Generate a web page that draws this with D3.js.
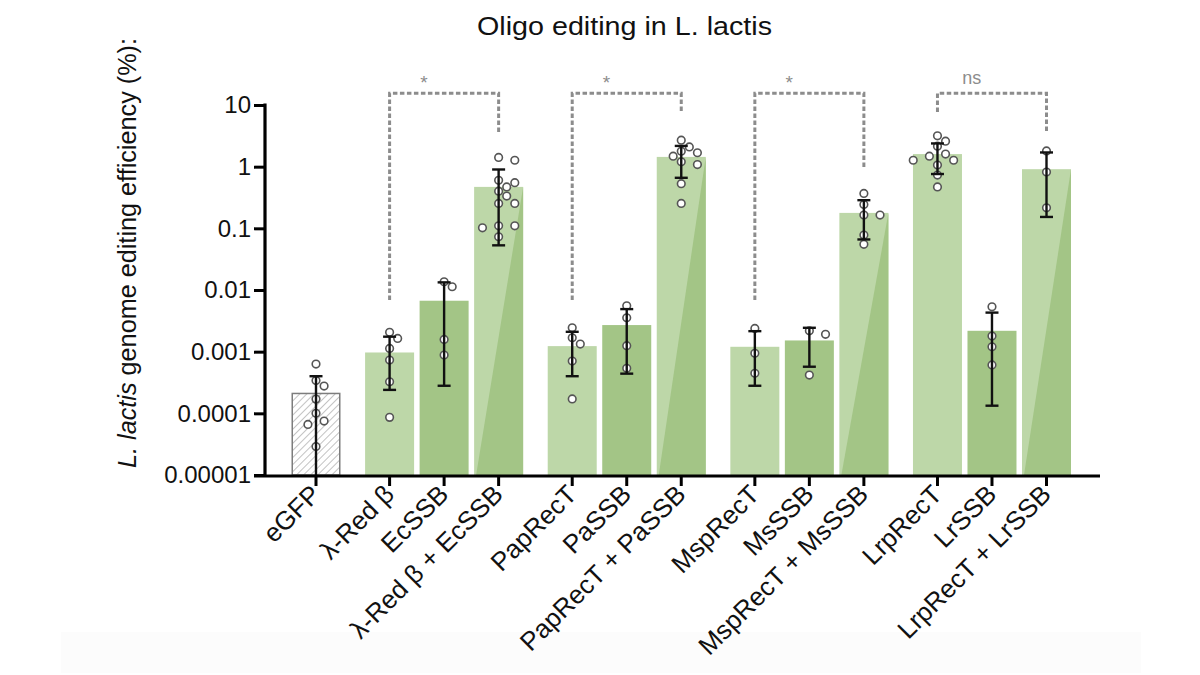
<!DOCTYPE html>
<html>
<head>
<meta charset="utf-8">
<script src="https://cdn.jsdelivr.net/npm/d3@7/dist/d3.min.js"></script>
<style>
  html, body { margin: 0; padding: 0; background: #fff; }
  svg { display: block; font-family: "Liberation Sans", Arial, sans-serif; }
</style>
</head>
<body>
<svg id="chart" width="1200" height="675"></svg>
<script>
// ---------------- DATA ----------------
const categories = ["eGFP", "λ-Red β", "EcSSB", "λ-Red β + EcSSB",
  "PapRecT", "PaSSB", "PapRecT + PaSSB",
  "MspRecT", "MsSSB", "MspRecT + MsSSB",
  "LrpRecT", "LrSSB", "LrpRecT + LrSSB"];
const groupIndex = [0, 1, 1, 1, 2, 2, 2, 3, 3, 3, 4, 4, 4];
const barKind = ["control", "recT", "ssb", "combo", "recT", "ssb", "combo",
  "recT", "ssb", "combo", "recT", "ssb", "combo"];
const means = [0.00021, 0.00097, 0.0067, 0.47, 0.00123, 0.0027, 1.44,
  0.0012, 0.00152, 0.178, 1.6, 0.00218, 0.91];
const errHigh = [0.0004, 0.00175, 0.0133, 0.9, 0.0021, 0.0049, 2.17,
  0.00215, 0.00244, 0.286, 2.38, 0.0043, 1.7];
const errLow = [null, 0.00024, 0.00028, 0.053, 0.0004, 0.00044, 0.66,
  0.00028, 0.00057, 0.066, 0.76, 0.000133, 0.153];
const replicates = [
  [0.00063, 0.00034, 0.000277, 0.00017, 0.0001, 0.000075, 0.000066, 0.000029],
  [0.00206, 0.00164, 0.00113, 0.00073, 0.000325, 0.000086],
  [0.0136, 0.0113, 0.00158, 0.00088],
  [1.41, 1.27, 0.6, 0.55, 0.47, 0.4, 0.333, 0.253, 0.253, 0.11, 0.11, 0.102, 0.073],
  [0.00244, 0.00168, 0.00133, 0.000704, 0.000171],
  [0.00555, 0.00355, 0.00125, 0.000536],
  [2.69, 2.09, 1.78, 1.68, 1.48, 1.2, 1.08, 0.53, 0.253],
  [0.00238, 0.00094, 0.000445],
  [0.00218, 0.00191, 0.000418],
  [0.368, 0.244, 0.164, 0.164, 0.078, 0.055],
  [3.16, 2.59, 2.15, 1.6, 1.48, 1.27, 1.27, 1.06, 0.73, 0.47],
  [0.00535, 0.00179, 0.0012, 0.00061],
  [1.8, 0.82, 0.215]
];
const yTickValues = [0.00001, 0.0001, 0.001, 0.01, 0.1, 1, 10];
const yTickLabels = ["0.00001", "0.0001", "0.001", "0.01", "0.1", "1", "10"];
// significance comparisons (bar indices, leg end values in data units)
const compFrom = [1, 4, 7, 10];
const compTo = [3, 6, 9, 12];
const compLeftEnd = [0.0069, 0.0069, 0.0069, 7.7];
const compRightEnd = [3.6, 7.4, 0.95, 3.6];
const compTop = 15.5;
const compLabels = ["*", "*", "*", "ns"];
const titleText = "Oligo editing in L. lactis";

// ---------------- LAYOUT ----------------
const svg = d3.select("#chart");
const colors = { light: "#bdd7a8", dark: "#a3c586" };
const groupGap = 0.35;
const slots = categories.map((c, i) => i + groupIndex[i] * groupGap);
const x = d3.scaleLinear().domain([0, d3.max(slots)]).range([316, 1046.5]);
const y = d3.scaleLog().domain([1e-5, 10]).range([475, 105]);
const barW = 49;
const axisX = 265, axisY = 476;

// faint bottom band
svg.append("rect").attr("x", 61).attr("y", 632).attr("width", 1080).attr("height", 41)
  .attr("fill", "#fcfcfc");

// hatch pattern
const defs = svg.append("defs");
const pat = defs.append("pattern").attr("id", "hatch").attr("patternUnits", "userSpaceOnUse")
  .attr("width", 5).attr("height", 5).attr("patternTransform", "rotate(45)");
pat.append("rect").attr("width", 5).attr("height", 5).attr("fill", "#fff");
pat.append("line").attr("x1", 0).attr("y1", 0).attr("x2", 0).attr("y2", 5)
  .attr("stroke", "#9a9a9a").attr("stroke-width", 1.2);

// title
svg.append("text").attr("x", 477).attr("y", 35)
  .attr("font-size", 25).attr("fill", "#111")
  .attr("textLength", 295).attr("lengthAdjust", "spacingAndGlyphs").text(titleText);

// y-axis label
const yl = svg.append("text").attr("transform", "translate(136,253) rotate(-90)")
  .attr("text-anchor", "middle").attr("font-size", 26).attr("fill", "#111")
  .attr("textLength", 430).attr("lengthAdjust", "spacingAndGlyphs");
yl.append("tspan").attr("font-style", "italic").text("L. lactis");
yl.append("tspan").text(" genome editing efficiency (%):");

// bars
const bars = svg.append("g");
categories.forEach((c, i) => {
  const cx = x(slots[i]);
  const x0 = cx - barW / 2, x1 = cx + barW / 2;
  const top = y(means[i]), bot = y.range()[0];
  if (barKind[i] === "control") {
    bars.append("rect").attr("x", x0 + 0.75).attr("y", top).attr("width", barW - 1.5)
      .attr("height", bot - top).attr("fill", "url(#hatch)")
      .attr("stroke", "#7d7d7d").attr("stroke-width", 1.5);
  } else if (barKind[i] === "combo") {
    bars.append("rect").attr("x", x0).attr("y", top).attr("width", barW)
      .attr("height", bot - top).attr("fill", colors.light);
    bars.append("path")
      .attr("d", `M${x0 + 2},${bot} L${x1},${bot} L${x1},${top} Z`)
      .attr("fill", colors.dark);
  } else {
    bars.append("rect").attr("x", x0).attr("y", top).attr("width", barW)
      .attr("height", bot - top)
      .attr("fill", barKind[i] === "recT" ? colors.light : colors.dark);
  }
});

// replicate points (simple dodge to avoid overlap)
const r = 3.8;
const pts = svg.append("g");
categories.forEach((c, i) => {
  const cx = x(slots[i]);
  const placed = [];
  const vals = replicates[i].slice().sort((a, b) => b - a);
  vals.forEach(v => {
    const py = y(v);
    const step = (2 * r + 2.5) * 0.8;
    const cands = [0, 1, -1, 2, -2, 3, -3, 4, -4];
    let pxSel = cx;
    for (const k of cands) {
      const px = cx + k * step;
      const ok = placed.every(p => Math.hypot(p[0] - px, p[1] - py) >= 2 * r + 1.5);
      if (ok) { pxSel = px; break; }
    }
    placed.push([pxSel, py]);
  });
  placed.forEach(p => {
    pts.append("circle").attr("cx", p[0]).attr("cy", p[1]).attr("r", r)
      .attr("fill", "#fff").attr("stroke", "#555").attr("stroke-width", 1.6);
  });
});

// error bars
const eb = svg.append("g").attr("stroke", "#111").attr("stroke-width", 2.4);
const capW = 13;
categories.forEach((c, i) => {
  const cx = x(slots[i]);
  const yh = y(errHigh[i]);
  const yb = errLow[i] === null ? y.range()[0] : y(errLow[i]);
  eb.append("line").attr("x1", cx).attr("x2", cx).attr("y1", yh).attr("y2", yb);
  eb.append("line").attr("x1", cx - capW / 2).attr("x2", cx + capW / 2).attr("y1", yh).attr("y2", yh);
  if (errLow[i] !== null) {
    eb.append("line").attr("x1", cx - capW / 2).attr("x2", cx + capW / 2).attr("y1", yb).attr("y2", yb);
  }
});

// significance brackets
const br = svg.append("g");
compFrom.forEach((f, k) => {
  const xa = x(slots[f]), xb = x(slots[compTo[k]]);
  const yt = y(compTop);
  br.append("path")
    .attr("d", `M${xa},${y(compLeftEnd[k])} L${xa},${yt} L${xb},${yt} L${xb},${y(compRightEnd[k])}`)
    .attr("fill", "none").attr("stroke", "#8c8c8c").attr("stroke-width", 3)
    .attr("stroke-dasharray", "4.5,2.5");
  const lx = (x(slots[f]) + x(slots[f + 1])) / 2 + 7;
  br.append("text").attr("x", lx).attr("y", compLabels[k] === "*" ? 89 : 84)
    .attr("text-anchor", "middle").attr("fill", "#8c8c8c")
    .attr("font-size", compLabels[k] === "*" ? 19 : 18).text(compLabels[k]);
});

// y axis
const yAxis = d3.axisLeft(y).tickValues(yTickValues)
  .tickFormat((d, i) => yTickLabels[i]).tickSize(11).tickPadding(3);
const gy = svg.append("g").attr("transform", `translate(${axisX},0)`).call(yAxis);
gy.select(".domain").remove();
gy.selectAll(".tick line").attr("stroke", "#000").attr("stroke-width", 3);
gy.selectAll(".tick text").attr("font-size", 24).attr("fill", "#111")
  .attr("font-family", "'Liberation Sans', Arial, sans-serif");
gy.append("line").attr("x1", 0).attr("x2", 0).attr("y1", y(10) - 1.5).attr("y2", axisY)
  .attr("stroke", "#000").attr("stroke-width", 3.2);

// x axis
const xAxisG = svg.append("g");
xAxisG.append("line").attr("x1", 254).attr("x2", 1100).attr("y1", axisY).attr("y2", axisY)
  .attr("stroke", "#000").attr("stroke-width", 3.2);
categories.forEach((c, i) => {
  const cx = x(slots[i]);
  xAxisG.append("line").attr("x1", cx).attr("x2", cx).attr("y1", axisY).attr("y2", axisY + 10)
    .attr("stroke", "#000").attr("stroke-width", 3);
  xAxisG.append("text")
    .attr("transform", `translate(${cx + 6},${axisY + 20}) rotate(-45)`)
    .attr("text-anchor", "end").attr("font-size", 26).attr("fill", "#111")
    .text(c);
});
</script>
</body>
</html>
